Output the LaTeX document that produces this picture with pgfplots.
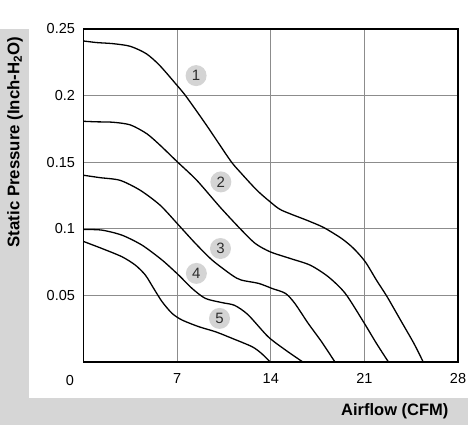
\documentclass[border=0pt]{standalone}
\usepackage{pgfplots}
\pgfplotsset{compat=1.18}
\usepackage{fontspec}
\setmainfont{Liberation Sans}
\definecolor{strip}{RGB}{214,214,214}
\definecolor{gridc}{RGB}{140,140,140}
\definecolor{badge}{RGB}{212,212,212}
\definecolor{badgetxt}{RGB}{45,45,45}
\begin{document}
\begin{tikzpicture}
\path[use as bounding box] (0pt,0pt) rectangle (468pt,425pt);
\fill[strip] (0pt,0pt) rectangle (468pt,27pt);
\fill[strip] (0pt,0pt) rectangle (29pt,396pt);
\node[rotate=90, font=\fontsize{16.8}{19}\selectfont\bfseries] at (15pt,283pt) {Static Pressure (Inch-H\textsubscript{2}O)};
\node[anchor=east, font=\fontsize{16.5}{19}\selectfont\bfseries] at (452pt,14pt) {Airflow (CFM)};
\node[font=\fontsize{14.5}{16}\selectfont] at (70pt,44.5pt) {0};
\begin{axis}[
  at={(83.5pt,63pt)}, anchor=south west,
  scale only axis, width=374.5pt, height=333pt,
  xmin=0, xmax=28, ymin=0, ymax=0.25,
  xtick={0,7,14,21,28}, xticklabels={,7,14,21,28},
  ytick={0.05,0.1,0.15,0.2,0.25},
  yticklabels={0.05,0.1,0.15,0.2,0.25},
  grid=major, major grid style={gridc, line width=0.9pt},
  axis line style={black, line width=1.6pt},
  major tick length=0pt,
  tick label style={font=\fontsize{14.5}{16}\selectfont},
  xticklabel style={yshift=-8pt},
  yticklabel style={xshift=-5pt},
  clip=true,
]
\addplot[black, line width=1.3pt, smooth, tension=0.45] coordinates {
(0,0.241)(1,0.2398)(2.2,0.2390)(3.5,0.237)(4.7,0.2314)(5.7,0.2226)(7.0,0.2076)(7.7,0.199)(9.2,0.1777)(10.97,0.1514)(11.7,0.1427)(12.96,0.129)(13.96,0.1202)(14.8,0.114)(16.7,0.1064)(17.95,0.101)(19.3,0.0927)(20.2,0.0852)(21.07,0.0752)(21.9,0.0615)(22.7,0.049)(23.7,0.0315)(24.7,0.014)(25.4,0)
};
\addplot[black, line width=1.3pt, smooth, tension=0.45] coordinates {
(0,0.1807)(1,0.1803)(2.2,0.180)(3.5,0.178)(4.73,0.1714)(5.73,0.1627)(6.97,0.1507)(8.47,0.1364)(10.2,0.1164)(11.7,0.1002)(12.84,0.089)(13.96,0.0827)(15.46,0.0777)(16.95,0.0727)(18.3,0.064)(19.57,0.0515)(20.94,0.030)(21.9,0.014)(22.8,0)
};
\addplot[black, line width=1.3pt, smooth, tension=0.45] coordinates {
(0,0.1402)(1.23,0.1384)(2.73,0.1364)(4.23,0.129)(5.73,0.1177)(7.12,0.1027)(8.37,0.089)(9.62,0.0765)(11.1,0.0652)(11.8,0.0615)(13.1,0.059)(14.1,0.0552)(15.1,0.0515)(15.8,0.044)(16.8,0.029)(17.8,0.0152)(18.8,0)
};
\addplot[black, line width=1.3pt, smooth, tension=0.45] coordinates {
(0,0.0995)(1.38,0.099)(2.88,0.0952)(4.38,0.0877)(5.88,0.0765)(7.12,0.0652)(8.12,0.0552)(9.12,0.0477)(10.4,0.0445)(11.3,0.0425)(12.3,0.0355)(13.8,0.019)(15.1,0.009)(16.4,0)
};
\addplot[black, line width=1.3pt, smooth, tension=0.45] coordinates {
(0,0.0905)(1.38,0.0852)(2.88,0.079)(3.88,0.0727)(4.63,0.0652)(5.25,0.0552)(5.88,0.0452)(6.62,0.0365)(7.37,0.0315)(8.62,0.0265)(9.87,0.0227)(11.1,0.0178)(12.6,0.0115)(13.3,0.0065)(13.96,0)
};
\tikzset{badgenode/.style={circle, fill=badge, minimum size=21pt, inner sep=0pt, text=badgetxt, font=\fontsize{15}{17}\selectfont}}
\node[badgenode] at (axis cs:8.42,0.215) {1};
\node[badgenode] at (axis cs:10.27,0.1352) {2};
\node[badgenode] at (axis cs:10.24,0.0852) {3};
\node[badgenode] at (axis cs:8.44,0.0665) {4};
\node[badgenode] at (axis cs:10.17,0.0327) {5};
\end{axis}
\end{tikzpicture}
\end{document}
